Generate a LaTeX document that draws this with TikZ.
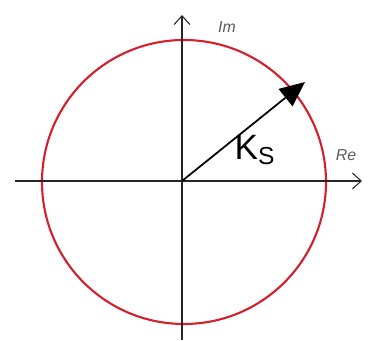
\documentclass[tikz,border=0pt]{standalone}
\usepackage{fontspec}
\setmainfont{Liberation Sans}
\usetikzlibrary{arrows.meta, positioning}
\definecolor{circred}{RGB}{212,32,44}
\definecolor{pencil}{RGB}{90,90,90}
\tikzstyle{axis} = [line width=0.6pt, draw=black!85, -{Straight Barb[length=5pt,width=9pt]}]
\tikzstyle{vector} = [line width=1pt, -{Triangle[length=0.5cm,width=0.44cm]}]
\tikzstyle{hand} = [text=pencil, font=\small\itshape]

\begin{document}
\begin{tikzpicture}[x=0.02cm, y=0.02cm]
  \useasboundingbox (0,0) rectangle (375,341);
  \coordinate (origin) at (182,160);
  \coordinate (imlow)  at (182,1);
  \coordinate (imtop)  at (182,326);
  \coordinate (releft) at (15,160);
  \coordinate (retip)  at (362,160);
  \coordinate (ks)     at (305,259);

  % circle of constant gain
  \draw[circred, line width=1.2pt] (184,159) circle (142);

  % axes
  \draw[axis] (imlow)  -- (imtop);
  \draw[axis] (releft) -- (retip);
  \node (im) [hand, right=0.6cm of imtop, yshift=-0.25cm] {Im};
  \node (re) [hand] at (346,186) {Re};

  % gain vector
  \draw[vector] (origin) -- (ks);
  \node (kslabel) [font=\fontsize{20}{21}\selectfont] at (255,191) {K\textsubscript{S}};
\end{tikzpicture}
\end{document}
